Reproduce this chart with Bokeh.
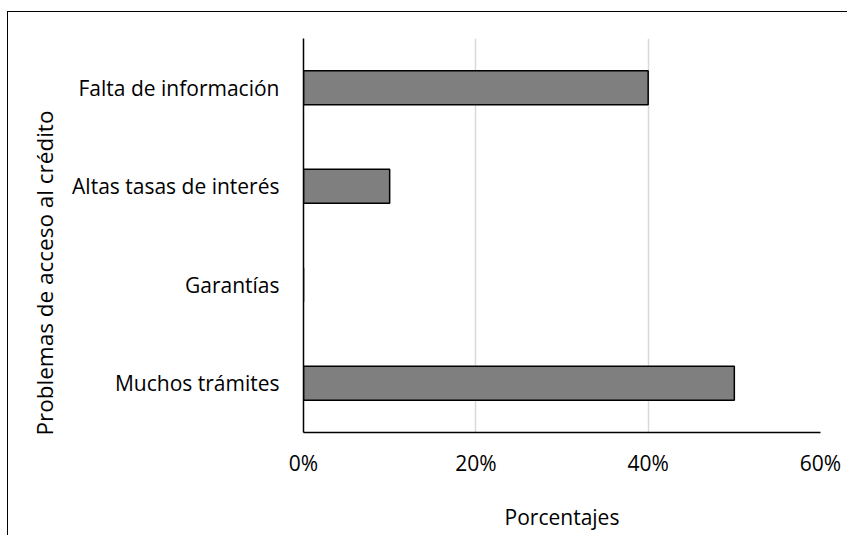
from bokeh.plotting import figure
from bokeh.models import FactorRange, Range1d, NumeralTickFormatter, FixedTicker, ColumnDataSource, Title
from bokeh.embed import file_html
from bokeh.resources import INLINE

categories = ["Muchos trámites", "Garantías", "Altas tasas de interés", "Falta de información"]
values = [0.50, 0.0, 0.10, 0.40]
x_ticks = [0, 0.2, 0.4, 0.6]
x_title = "Porcentajes"
y_title = "Problemas de acceso al crédito"

src = ColumnDataSource(dict(cat=categories, val=values))

p = figure(width=840, height=524, output_backend="svg", toolbar_location=None,
           y_range=FactorRange(*categories, range_padding=0), x_range=Range1d(0, 0.6),
           min_border_left=295, min_border_right=28, min_border_top=26, min_border_bottom=104)
p.styles = {"border-top": "1.5px solid black", "border-left": "1.5px solid black",
            "margin-left": "7px", "margin-top": "11px"}
p.outline_line_color = None
p.background_fill_color = "white"

p.hbar(y="cat", right="val", left=0, height=0.345, source=src,
       fill_color="#7f7f7f", line_color="black", line_width=1.5)

font = "Open Sans"
p.xaxis.ticker = FixedTicker(ticks=x_ticks)
p.xaxis.formatter = NumeralTickFormatter(format="0%")
for ax in (p.xaxis[0], p.yaxis[0]):
    ax.major_tick_line_color = None
    ax.minor_tick_line_color = None
    ax.axis_line_color = "black"
    ax.axis_line_width = 1.5
    ax.major_label_text_font = font
    ax.major_label_text_font_size = "21px"
    ax.major_label_text_color = "black"
    ax.axis_label_text_font = font
    ax.axis_label_text_font_size = "21px"
    ax.axis_label_text_font_style = "normal"
    ax.axis_label_text_color = "black"

p.xaxis.axis_label = x_title
p.xaxis.major_label_standoff = 10
p.xaxis.axis_label_standoff = 23
p.yaxis.major_label_standoff = 18

ytitle = Title(text=y_title, align="left", offset=-3, text_font=font,
               text_font_size="22.5px", text_font_style="normal", text_color="black",
               standoff=20)
p.add_layout(ytitle, "left")

p.xgrid.grid_line_color = "#d9d9d9"
p.xgrid.grid_line_width = 1.5
p.ygrid.grid_line_color = None

open("out.html", "w").write(file_html(p, INLINE))
